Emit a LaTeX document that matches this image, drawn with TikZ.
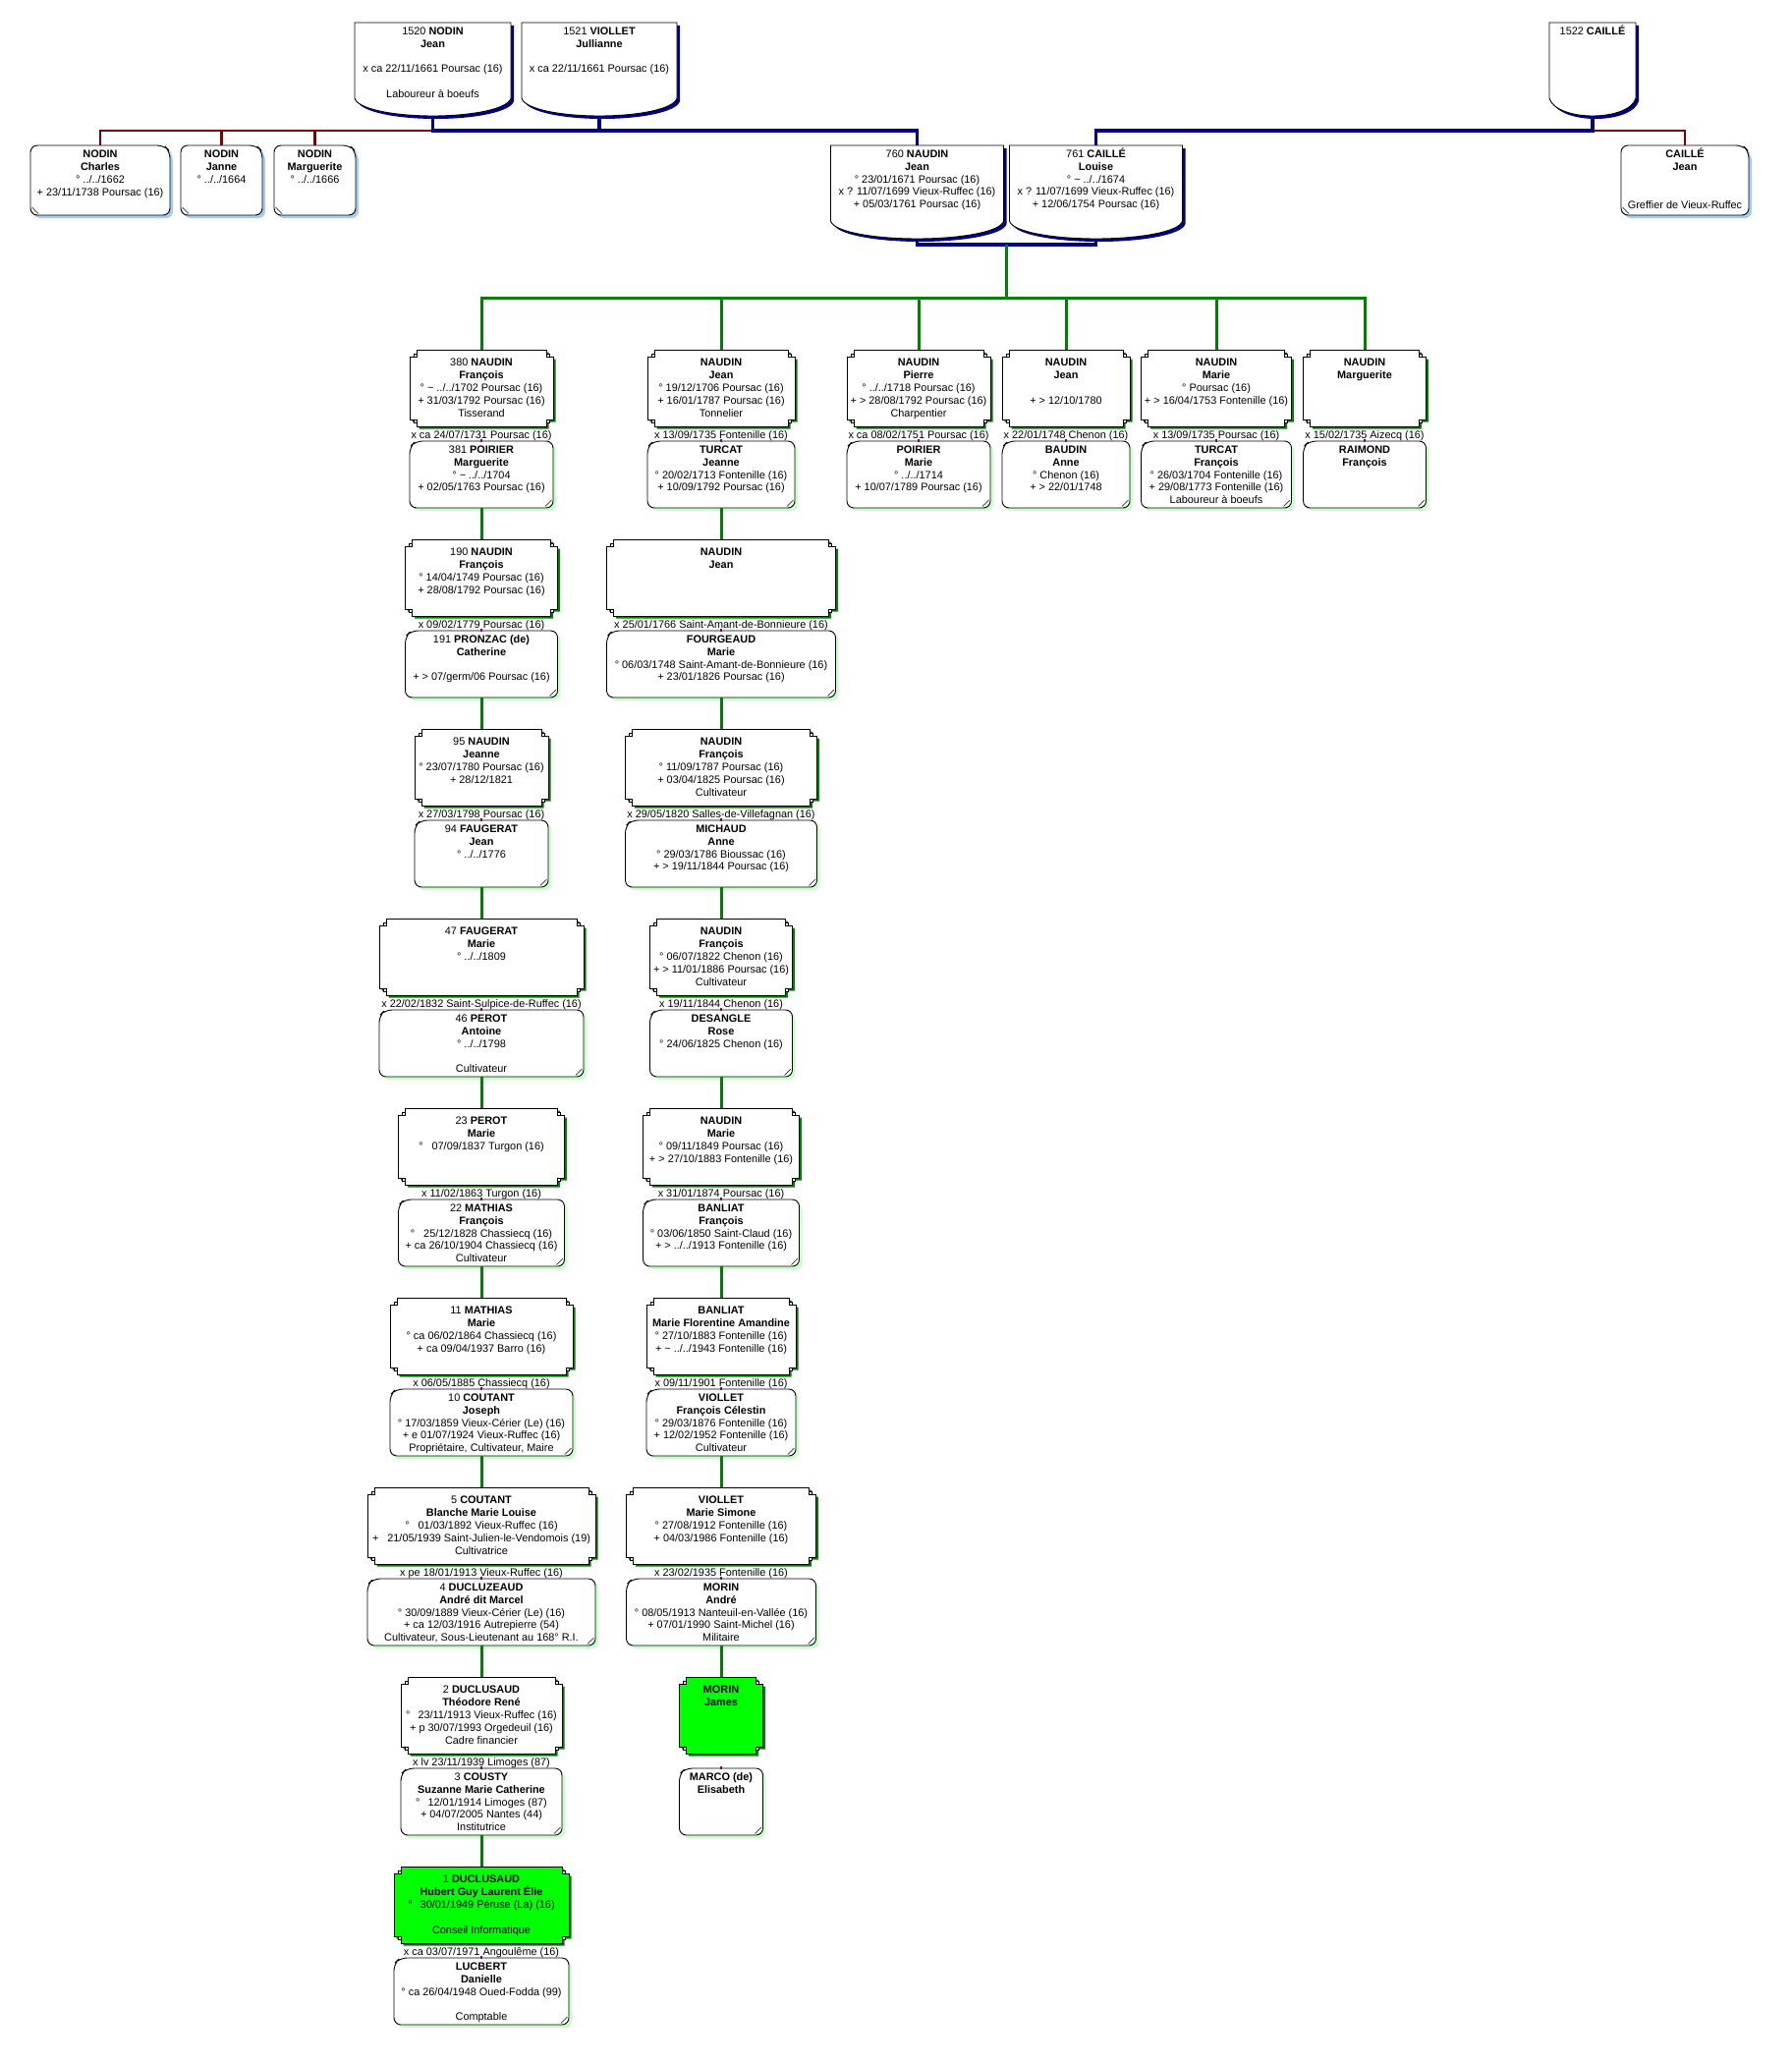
\documentclass[tikz,border=0pt]{standalone}
\usepackage{fontspec}
\setmainfont{Liberation Sans}
\usetikzlibrary{calc}
\definecolor{navyc}{RGB}{0,0,128}
\definecolor{maroonc}{RGB}{128,0,0}
\definecolor{grn}{RGB}{0,128,0}
\definecolor{limec}{RGB}{0,255,0}
\definecolor{lgrn}{RGB}{200,255,200}
\definecolor{lblue}{RGB}{166,202,240}
\definecolor{purp}{RGB}{128,0,128}
\newcommand{\bxfont}{\fontsize{10.9}{12.8}\selectfont}
\newcommand{\Tld}{\textasciitilde}
\tikzset{
  navyline/.style={draw=navyc,line width=3.4pt},
  redline/.style={draw=maroonc,line width=2.2pt},
  grnline/.style={draw=grn,line width=3pt},
  outline/.style={draw=black,line width=0.9pt},
  anchorbox/.style={inner sep=0pt,draw=none},
  boxtext/.style={anchor=north,inner sep=0pt,align=center,font=\bxfont},
  lbltext/.style={anchor=base,inner sep=0pt,font=\bxfont}
}
% main-line box with notched corners and green shadow
\newcommand{\MainBox}[6][white]{%
  \pgfmathsetmacro{\bxL}{#3-#5/2}%
  \pgfmathsetmacro{\bxR}{#3+#5/2}%
  \pgfmathsetmacro{\bxT}{#4}%
  \pgfmathsetmacro{\bxB}{#4+78}%
  \pgfmathsetmacro{\bxC}{#4+39}%
  \pgfmathsetmacro{\bxY}{#4+6.75}%
  \fill[grn,xshift=2.5pt,yshift=-2.5pt] (\bxL+7,\bxT) -- (\bxR-7,\bxT) -- (\bxR-7,\bxT+7) -- (\bxR,\bxT+7) -- (\bxR,\bxB-7) -- (\bxR-7,\bxB-7) -- (\bxR-7,\bxB) -- (\bxL+7,\bxB) -- (\bxL+7,\bxB-7) -- (\bxL,\bxB-7) -- (\bxL,\bxT+7) -- (\bxL+7,\bxT+7) -- cycle;
  \filldraw[fill=#1,outline] (\bxL+7,\bxT) -- (\bxR-7,\bxT) -- (\bxR-7,\bxT+7) -- (\bxR,\bxT+7) -- (\bxR,\bxB-7) -- (\bxR-7,\bxB-7) -- (\bxR-7,\bxB) -- (\bxL+7,\bxB) -- (\bxL+7,\bxB-7) -- (\bxL,\bxB-7) -- (\bxL,\bxT+7) -- (\bxL+7,\bxT+7) -- cycle;
  \filldraw[fill=white,draw=black,line width=0.6pt] (\bxL+4,\bxT+4) rectangle (\bxL+7,\bxT+7);
  \filldraw[fill=white,draw=black,line width=0.6pt] (\bxR-7,\bxT+4) rectangle (\bxR-4,\bxT+7);
  \filldraw[fill=white,draw=black,line width=0.6pt] (\bxL+4,\bxB-7) rectangle (\bxL+7,\bxB-4);
  \filldraw[fill=white,draw=black,line width=0.6pt] (\bxR-7,\bxB-7) rectangle (\bxR-4,\bxB-4);
  \node[anchorbox,minimum width=#5,minimum height=78] (#2) at (#3,\bxC) {};
  \node[boxtext] (#2-t) at (#3,\bxY) {\rule{0pt}{10pt}#6};
}
% spouse box: rounded, chamfer top-left, light green shadow
\newcommand{\SpBox}[6]{%
  \pgfmathsetmacro{\bxL}{#2-#4/2}%
  \pgfmathsetmacro{\bxR}{#2+#4/2}%
  \pgfmathsetmacro{\bxT}{#3}%
  \pgfmathsetmacro{\bxB}{#3+#5}%
  \pgfmathsetmacro{\bxC}{#3+#5/2}%
  \pgfmathsetmacro{\bxY}{#3+2.25}%
  \fill[lgrn,rounded corners=7pt,xshift=3pt,yshift=-3pt] (\bxL+6,\bxT) -- (\bxR,\bxT) -- (\bxR,\bxB) -- (\bxL,\bxB) -- (\bxL,\bxT+6) -- cycle;
  \filldraw[fill=white,outline,rounded corners=7pt] (\bxL+6,\bxT) -- (\bxR,\bxT) -- (\bxR,\bxB) -- (\bxL,\bxB) -- (\bxL,\bxT+6) -- cycle;
  \draw[line width=0.6pt] (\bxR-8,\bxB-1.5) -- (\bxR-1.5,\bxB-8);
  \node[anchorbox,minimum width=#4,minimum height=#5] (#1) at (#2,\bxC) {};
  \node[boxtext] (#1-t) at (#2,\bxY) {\rule{0pt}{10pt}#6};
}
% sibling box: rounded, chamfer top-right, light blue shadow
\newcommand{\SibBox}[6]{%
  \pgfmathsetmacro{\bxL}{#2-#4/2}%
  \pgfmathsetmacro{\bxR}{#2+#4/2}%
  \pgfmathsetmacro{\bxT}{#3}%
  \pgfmathsetmacro{\bxB}{#3+#5}%
  \pgfmathsetmacro{\bxC}{#3+#5/2}%
  \pgfmathsetmacro{\bxY}{#3+2.75}%
  \fill[lblue,rounded corners=7pt,xshift=3pt,yshift=-3pt] (\bxL,\bxT) -- (\bxR-6,\bxT) -- (\bxR,\bxT+6) -- (\bxR,\bxB) -- (\bxL,\bxB) -- cycle;
  \filldraw[fill=white,outline,rounded corners=7pt] (\bxL,\bxT) -- (\bxR-6,\bxT) -- (\bxR,\bxT+6) -- (\bxR,\bxB) -- (\bxL,\bxB) -- cycle;
  \draw[line width=0.6pt] (\bxL+1.5,\bxB-8) -- (\bxL+8,\bxB-1.5);
  \node[anchorbox,minimum width=#4,minimum height=#5] (#1) at (#2,\bxC) {};
  \node[boxtext] (#1-t) at (#2,\bxY) {\rule{0pt}{10pt}#6};
}
% shield box with curved bottom and navy shadow
\newcommand{\Shield}[5]{%
  \pgfmathsetmacro{\bxL}{#2-#4/2}%
  \pgfmathsetmacro{\bxR}{#2+#4/2}%
  \pgfmathsetmacro{\bxT}{#3}%
  \pgfmathsetmacro{\bxS}{#3+77}%
  \pgfmathsetmacro{\bxB}{#3+95}%
  \pgfmathsetmacro{\bxC}{#3+47.5}%
  \pgfmathsetmacro{\bxY}{#3+2.25}%
  \pgfmathsetmacro{\bxQ}{#4*0.25}%
  \fill[navyc,xshift=3pt,yshift=-3pt] (\bxL,\bxT) -- (\bxR,\bxT) -- (\bxR,\bxS) .. controls (\bxR-3,\bxS+11) and (\bxR-\bxQ,\bxB) .. (#2,\bxB) .. controls (\bxL+\bxQ,\bxB) and (\bxL+3,\bxS+11) .. (\bxL,\bxS) -- cycle;
  \filldraw[fill=white,outline] (\bxL,\bxT) -- (\bxR,\bxT) -- (\bxR,\bxS) .. controls (\bxR-3,\bxS+11) and (\bxR-\bxQ,\bxB) .. (#2,\bxB) .. controls (\bxL+\bxQ,\bxB) and (\bxL+3,\bxS+11) .. (\bxL,\bxS) -- cycle;
  \node[anchorbox,minimum width=#4,minimum height=95] (#1) at (#2,\bxC) {};
  \node[boxtext] (#1-t) at (#2,\bxY) {\rule{0pt}{10pt}#5};
}
% marriage label above spouse box
\newcommand{\MLabel}[4]{%
  \node[lbltext] (#1) at (#2,#3-2.5) {#4};
  \fill[purp] (#2-1,#3-2) rectangle (#2+1,#3+0.5);
}
\begin{document}
\begin{tikzpicture}[x=1pt,y=-1pt]
\useasboundingbox (0,0) rectangle (1823,2101);
\fill[white] (0,0) rectangle (1823,2101);

% ---------- top generation ----------
\Shield{a1520}{440.5}{23}{159}{1520 \textbf{NODIN}\\\textbf{Jean}\\\mbox{}\\x ca 22/11/1661 Poursac (16)\\\mbox{}\\Laboureur à boeufs}
\Shield{a1521}{610}{23}{158}{1521 \textbf{VIOLLET}\\\textbf{Jullianne}\\\mbox{}\\x ca 22/11/1661 Poursac (16)}
\Shield{a1522}{1621}{23}{88}{1522 \textbf{CAILLÉ}}

\SibBox{cCharles}{102}{148}{142}{71}{\textbf{NODIN}\\\textbf{Charles}\\° ../../1662\\+ 23/11/1738 Poursac (16)}
\SibBox{cJanne}{225.5}{148}{83}{71}{\textbf{NODIN}\\\textbf{Janne}\\° ../../1664}
\SibBox{cMarg}{320.5}{148}{83}{71}{\textbf{NODIN}\\\textbf{Marguerite}\\° ../../1666}
\SibBox{cJeanC}{1715}{148}{130}{71}{\textbf{CAILLÉ}\\\textbf{Jean}\\\mbox{}\\\mbox{}\\Greffier de Vieux-Ruffec}

\Shield{p760}{933.5}{148}{176}{760 \textbf{NAUDIN}\\\textbf{Jean}\\° 23/01/1671 Poursac (16)\\x ? 11/07/1699 Vieux-Ruffec (16)\\+ 05/03/1761 Poursac (16)}
\Shield{p761}{1115.5}{148}{176}{761 \textbf{CAILLÉ}\\\textbf{Louise}\\° \Tld{} ../../1674\\x ? 11/07/1699 Vieux-Ruffec (16)\\+ 12/06/1754 Poursac (16)}

% ---------- row 0 ----------
\MainBox{m0a}{490}{356}{146}{380 \textbf{NAUDIN}\\\textbf{François}\\° \Tld{} ../../1702 Poursac (16)\\+ 31/03/1792 Poursac (16)\\Tisserand}
\SpBox{s0a}{490}{449}{146}{68}{381 \textbf{POIRIER}\\\textbf{Marguerite}\\° \Tld{} ../../1704\\+ 02/05/1763 Poursac (16)}
\MLabel{l0a}{490}{449}{x ca 24/07/1731 Poursac (16)}

\MainBox{m0b}{734}{356}{150}{\textbf{NAUDIN}\\\textbf{Jean}\\° 19/12/1706 Poursac (16)\\+ 16/01/1787 Poursac (16)\\Tonnelier}
\SpBox{s0b}{734}{449}{150}{68}{\textbf{TURCAT}\\\textbf{Jeanne}\\° 20/02/1713 Fontenille (16)\\+ 10/09/1792 Poursac (16)}
\MLabel{l0b}{734}{449}{x 13/09/1735 Fontenille (16)}

\MainBox{m0c}{935}{356}{146}{\textbf{NAUDIN}\\\textbf{Pierre}\\° ../../1718 Poursac (16)\\+ > 28/08/1792 Poursac (16)\\Charpentier}
\SpBox{s0c}{935}{449}{146}{68}{\textbf{POIRIER}\\\textbf{Marie}\\° ../../1714\\+ 10/07/1789 Poursac (16)}
\MLabel{l0c}{935}{449}{x ca 08/02/1751 Poursac (16)}

\MainBox{m0d}{1085}{356}{130}{\textbf{NAUDIN}\\\textbf{Jean}\\\mbox{}\\+ > 12/10/1780}
\SpBox{s0d}{1085}{449}{130}{68}{\textbf{BAUDIN}\\\textbf{Anne}\\° Chenon (16)\\+ > 22/01/1748}
\MLabel{l0d}{1085}{449}{x 22/01/1748 Chenon (16)}

\MainBox{m0e}{1238}{356}{153}{\textbf{NAUDIN}\\\textbf{Marie}\\° Poursac (16)\\+ > 16/04/1753 Fontenille (16)}
\SpBox{s0e}{1238}{449}{153}{68}{\textbf{TURCAT}\\\textbf{François}\\° 26/03/1704 Fontenille (16)\\+ 29/08/1773 Fontenille (16)\\Laboureur à boeufs}
\MLabel{l0e}{1238}{449}{x 13/09/1735 Poursac (16)}

\MainBox{m0f}{1389}{356}{125}{\textbf{NAUDIN}\\\textbf{Marguerite}}
\SpBox{s0f}{1389}{449}{125}{68}{\textbf{RAIMOND}\\\textbf{François}}
\MLabel{l0f}{1389}{449}{x 15/02/1735 Aizecq (16)}

% ---------- row 1 ----------
\MainBox{m1a}{490}{549}{155}{190 \textbf{NAUDIN}\\\textbf{François}\\° 14/04/1749 Poursac (16)\\+ 28/08/1792 Poursac (16)}
\SpBox{s1a}{490}{642}{155}{68}{191 \textbf{PRONZAC (de)}\\\textbf{Catherine}\\\mbox{}\\+ > 07/germ/06 Poursac (16)}
\MLabel{l1a}{490}{642}{x 09/02/1779 Poursac (16)}

\MainBox{m1b}{734}{549}{233}{\textbf{NAUDIN}\\\textbf{Jean}}
\SpBox{s1b}{734}{642}{233}{68}{\textbf{FOURGEAUD}\\\textbf{Marie}\\° 06/03/1748 Saint-Amant-de-Bonnieure (16)\\+ 23/01/1826 Poursac (16)}
\MLabel{l1b}{734}{642}{x 25/01/1766 Saint-Amant-de-Bonnieure (16)}

% ---------- row 2 ----------
\MainBox{m2a}{490}{742}{136}{95 \textbf{NAUDIN}\\\textbf{Jeanne}\\° 23/07/1780 Poursac (16)\\+ 28/12/1821}
\SpBox{s2a}{490}{835}{136}{68}{94 \textbf{FAUGERAT}\\\textbf{Jean}\\° ../../1776}
\MLabel{l2a}{490}{835}{x 27/03/1798 Poursac (16)}

\MainBox{m2b}{734}{742}{195}{\textbf{NAUDIN}\\\textbf{François}\\° 11/09/1787 Poursac (16)\\+ 03/04/1825 Poursac (16)\\Cultivateur}
\SpBox{s2b}{734}{835}{195}{68}{\textbf{MICHAUD}\\\textbf{Anne}\\° 29/03/1786 Bioussac (16)\\+ > 19/11/1844 Poursac (16)}
\MLabel{l2b}{734}{835}{x 29/05/1820 Salles-de-Villefagnan (16)}

% ---------- row 3 ----------
\MainBox{m3a}{490}{935}{208}{47 \textbf{FAUGERAT}\\\textbf{Marie}\\° ../../1809}
\SpBox{s3a}{490}{1028}{208}{68}{46 \textbf{PEROT}\\\textbf{Antoine}\\° ../../1798\\\mbox{}\\Cultivateur}
\MLabel{l3a}{490}{1028}{x 22/02/1832 Saint-Sulpice-de-Ruffec (16)}

\MainBox{m3b}{734}{935}{145}{\textbf{NAUDIN}\\\textbf{François}\\° 06/07/1822 Chenon (16)\\+ > 11/01/1886 Poursac (16)\\Cultivateur}
\SpBox{s3b}{734}{1028}{145}{68}{\textbf{DESANGLE}\\\textbf{Rose}\\° 24/06/1825 Chenon (16)}
\MLabel{l3b}{734}{1028}{x 19/11/1844 Chenon (16)}

% ---------- row 4 ----------
\MainBox{m4a}{490}{1128}{169}{23 \textbf{PEROT}\\\textbf{Marie}\\°\hspace{9pt}07/09/1837 Turgon (16)}
\SpBox{s4a}{490}{1221}{169}{68}{22 \textbf{MATHIAS}\\\textbf{François}\\°\hspace{9pt}25/12/1828 Chassiecq (16)\\+ ca 26/10/1904 Chassiecq (16)\\Cultivateur}
\MLabel{l4a}{490}{1221}{x 11/02/1863 Turgon (16)}

\MainBox{m4b}{734}{1128}{159}{\textbf{NAUDIN}\\\textbf{Marie}\\° 09/11/1849 Poursac (16)\\+ > 27/10/1883 Fontenille (16)}
\SpBox{s4b}{734}{1221}{159}{68}{\textbf{BANLIAT}\\\textbf{François}\\° 03/06/1850 Saint-Claud (16)\\+ > ../../1913 Fontenille (16)}
\MLabel{l4b}{734}{1221}{x 31/01/1874 Poursac (16)}

% ---------- row 5 ----------
\MainBox{m5a}{490}{1321}{186}{11 \textbf{MATHIAS}\\\textbf{Marie}\\° ca 06/02/1864 Chassiecq (16)\\+ ca 09/04/1937 Barro (16)}
\SpBox{s5a}{490}{1414}{186}{68}{10 \textbf{COUTANT}\\\textbf{Joseph}\\° 17/03/1859 Vieux-Cérier (Le) (16)\\+ e 01/07/1924 Vieux-Ruffec (16)\\Propriétaire, Cultivateur, Maire}
\MLabel{l5a}{490}{1414}{x 06/05/1885 Chassiecq (16)}

\MainBox{m5b}{734}{1321}{152}{\textbf{BANLIAT}\\\textbf{Marie Florentine Amandine}\\° 27/10/1883 Fontenille (16)\\+ \Tld{} ../../1943 Fontenille (16)}
\SpBox{s5b}{734}{1414}{152}{68}{\textbf{VIOLLET}\\\textbf{François Célestin}\\° 29/03/1876 Fontenille (16)\\+ 12/02/1952 Fontenille (16)\\Cultivateur}
\MLabel{l5b}{734}{1414}{x 09/11/1901 Fontenille (16)}

% ---------- row 6 ----------
\MainBox{m6a}{490}{1514}{232}{5 \textbf{COUTANT}\\\textbf{Blanche Marie Louise}\\°\hspace{9pt}01/03/1892 Vieux-Ruffec (16)\\+\hspace{9pt}21/05/1939 Saint-Julien-le-Vendomois (19)\\Cultivatrice}
\SpBox{s6a}{490}{1607}{232}{68}{4 \textbf{DUCLUZEAUD}\\\textbf{André dit Marcel}\\° 30/09/1889 Vieux-Cérier (Le) (16)\\+ ca 12/03/1916 Autrepierre (54)\\Cultivateur, Sous-Lieutenant au 168° R.I.}
\MLabel{l6a}{490}{1607}{x pe 18/01/1913 Vieux-Ruffec (16)}

\MainBox{m6b}{734}{1514}{193}{\textbf{VIOLLET}\\\textbf{Marie Simone}\\° 27/08/1912 Fontenille (16)\\+ 04/03/1986 Fontenille (16)}
\SpBox{s6b}{734}{1607}{193}{68}{\textbf{MORIN}\\\textbf{André}\\° 08/05/1913 Nanteuil-en-Vallée (16)\\+ 07/01/1990 Saint-Michel (16)\\Militaire}
\MLabel{l6b}{734}{1607}{x 23/02/1935 Fontenille (16)}

% ---------- row 7 ----------
\MainBox{m7a}{490}{1707}{164}{2 \textbf{DUCLUSAUD}\\\textbf{Théodore René}\\°\hspace{8pt}23/11/1913 Vieux-Ruffec (16)\\+ p 30/07/1993 Orgedeuil (16)\\Cadre financier}
\SpBox{s7a}{490}{1800}{164}{68}{3 \textbf{COUSTY}\\\textbf{Suzanne Marie Catherine}\\°\hspace{8pt}12/01/1914 Limoges (87)\\+ 04/07/2005 Nantes (44)\\Institutrice}
\MLabel{l7a}{490}{1800}{x lv 23/11/1939 Limoges (87)}

\MainBox[limec]{m7b}{734}{1707}{85}{\textbf{MORIN}\\\textbf{James}}
\SpBox{s7b}{734}{1800}{85}{68}{\textbf{MARCO (de)}\\\textbf{Elisabeth}}
\fill[purp] (733,1798) rectangle (735,1800.5);

% ---------- row 8 ----------
\MainBox[limec]{m8a}{490}{1900}{178}{1 \textbf{DUCLUSAUD}\\\textbf{Hubert Guy Laurent Élie}\\°\hspace{8pt}30/01/1949 Péruse (La) (16)\\\mbox{}\\Conseil Informatique}
\SpBox{s8a}{490}{1993}{178}{68}{\textbf{LUCBERT}\\\textbf{Danielle}\\° ca 26/04/1948 Oued-Fodda (99)\\\mbox{}\\Comptable}
\MLabel{l8a}{490}{1993}{x ca 03/07/1971 Angoulême (16)}

% ---------- connectors ----------
\coordinate (busTop) at (0,133);
\coordinate (coupleY) at (0,249);
\coordinate (busGrn) at (0,303);

\draw[redline] (a1520.south |- busTop) -| (cCharles.north);
\draw[redline] (cJanne.north) -- (cJanne.north |- busTop);
\draw[redline] (cMarg.north) -- (cMarg.north |- busTop);
\draw[redline] (a1522.south |- busTop) -| (cJeanC.north);

\draw[navyline] (a1520.south) -- (a1520.south |- busTop) -| (p760.north);
\draw[navyline] (a1521.south) -- (a1521.south |- busTop);
\draw[navyline] (a1522.south) -- (a1522.south |- busTop) -| (p761.north);
\draw[navyline] (p760.south) -- (p760.south |- coupleY) -| (p761.south);

\coordinate (coupleMid) at ($(p760.south |- coupleY)!0.5!(p761.south |- coupleY)$);
\draw[grnline] (coupleMid) -- (coupleMid |- busGrn);
\draw[grnline] (m0a.north) |- (busGrn -| m0f.north) -- (m0f.north);
\foreach \nn in {m0b,m0c,m0d,m0e}{\draw[grnline] (\nn.north) -- (\nn.north |- busGrn);}

\draw[grnline] (s0a.south) -- (m1a.north);
\draw[grnline] (s1a.south) -- (m2a.north);
\draw[grnline] (s2a.south) -- (m3a.north);
\draw[grnline] (s3a.south) -- (m4a.north);
\draw[grnline] (s4a.south) -- (m5a.north);
\draw[grnline] (s5a.south) -- (m6a.north);
\draw[grnline] (s6a.south) -- (m7a.north);
\draw[grnline] (s7a.south) -- (m8a.north);

\draw[grnline] (s0b.south) -- (m1b.north);
\draw[grnline] (s1b.south) -- (m2b.north);
\draw[grnline] (s2b.south) -- (m3b.north);
\draw[grnline] (s3b.south) -- (m4b.north);
\draw[grnline] (s4b.south) -- (m5b.north);
\draw[grnline] (s5b.south) -- (m6b.north);
\draw[grnline] (s6b.south) -- (m7b.north);
\end{tikzpicture}
\end{document}
